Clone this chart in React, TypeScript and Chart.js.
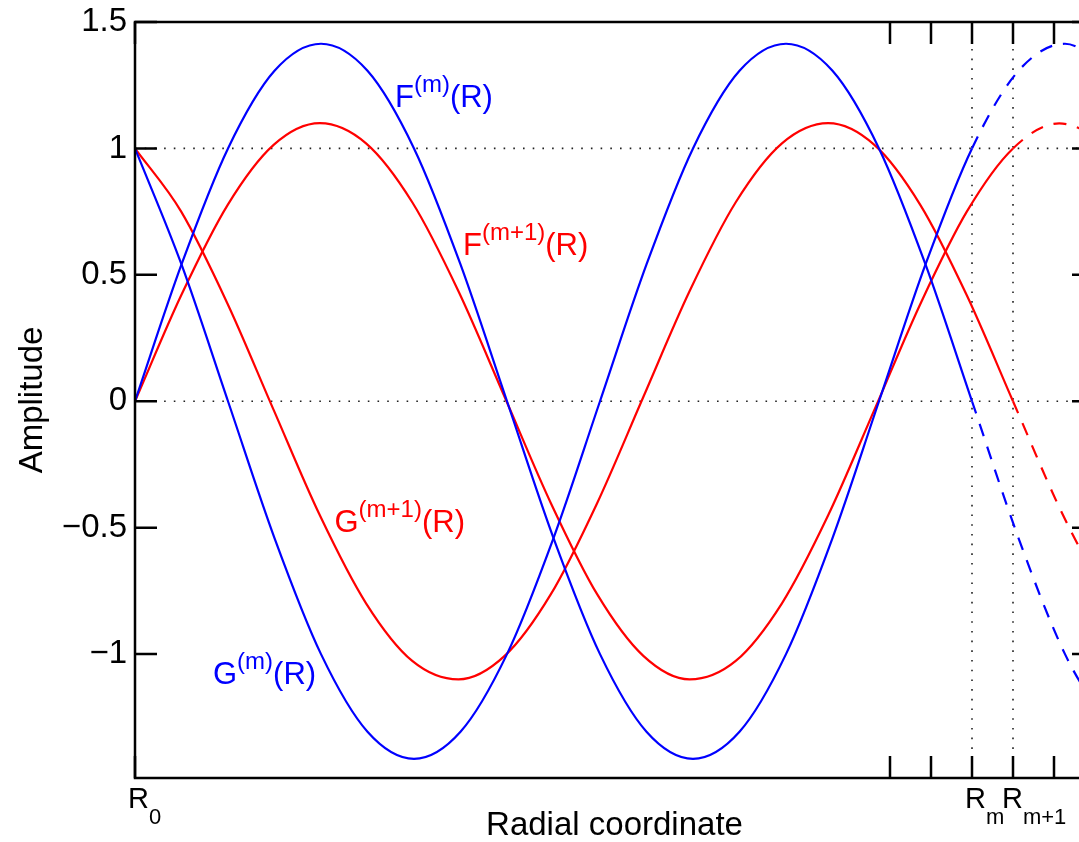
import React, { useEffect, useRef } from 'react';
import { Chart, registerables } from 'chart.js';

Chart.register(...registerables);

// ---- data (radial coordinate in arbitrary units, R0 = 0) ----
const xM = [0, 46.5, 93, 139.5, 186, 232.5, 279, 325.5, 372, 418.5, 465, 511.5, 558, 604.5, 651, 697.5, 744, 790.5, 837, 883.5, 930, 976.5];
const fM = [0, 0.541, 1.0, 1.307, 1.414, 1.307, 1.0, 0.541, 0, -0.541, -1.0, -1.307, -1.414, -1.307, -1.0, -0.541, 0, 0.541, 1.0, 1.307, 1.414, 1.307];
const gM = [1.0, 0.541, 0, -0.541, -1.0, -1.307, -1.414, -1.307, -1.0, -0.541, 0, 0.541, 1.0, 1.307, 1.414, 1.307, 1.0, 0.541, 0, -0.541, -1.0, -1.307];

const xM1 = [0, 46.21, 92.42, 138.63, 184.84, 231.05, 277.26, 323.47, 369.68, 415.89, 462.11, 508.32, 554.53, 600.74, 646.95, 693.16, 739.37, 785.58, 831.79, 878, 924.21, 970.42];
const fM1 = [0, 0.419, 0.775, 1.014, 1.1, 1.02, 0.787, 0.435, 0.017, -0.403, -0.763, -1.007, -1.1, -1.027, -0.799, -0.451, -0.034, 0.387, 0.75, 1.0, 1.099, 1.033];
const gM1 = [1.0, 0.75, 0.387, -0.034, -0.451, -0.799, -1.027, -1.1, -1.007, -0.763, -0.403, 0.017, 0.435, 0.787, 1.02, 1.1, 1.014, 0.775, 0.419, 0, -0.419, -0.775];

const R_M = 837;
const R_M1 = 878;
const X_MAX = 959;

const xTickValues = [0, 755, 796, 837, 878, 919];
const xTickMain = ['R', '', '', 'R', 'R', ''];
const xTickSub = ['0', '', '', 'm', 'm+1', ''];
const yTickValues = [1.5, 1, 0.5, 0, -0.5, -1];
const yGridValues = [1, 0];
const xGridValues = [R_M, R_M1];

const BLUE = '#0000ff';
const RED = '#ff0000';
const FONT = '"Liberation Sans", Arial, Helvetica, sans-serif';

const annotations = [
  { x: 260, y: 1.163, base: 'F', sup: '(m)', tail: '(R)', color: BLUE },
  { x: 328, y: 0.578, base: 'F', sup: '(m+1)', tail: '(R)', color: RED },
  { x: 199.5, y: -0.517, base: 'G', sup: '(m+1)', tail: '(R)', color: RED },
  { x: 78, y: -1.119, base: 'G', sup: '(m)', tail: '(R)', color: BLUE },
];

function series(xs: number[], ys: number[]) {
  return xs.map((x, i) => ({ x, y: ys[i] }));
}

function makeDataset(xs: number[], ys: number[], color: string, rEnd: number) {
  return {
    data: series(xs, ys),
    borderColor: color,
    borderWidth: 2.2,
    pointRadius: 0,
    fill: false,
    cubicInterpolationMode: 'monotone' as const,
    segment: {
      borderDash: (ctx: any) => (ctx.p0.parsed.x >= rEnd - 0.01 ? [13, 11] : undefined),
    },
  };
}

const axesPlugin = {
  id: 'matlabAxes',
  beforeDatasetsDraw(chart: any) {
    const { ctx, chartArea: a, scales } = chart;
    const x = scales.x;
    const y = scales.y;
    ctx.save();
    ctx.strokeStyle = '#222';
    ctx.lineWidth = 1.6;
    ctx.setLineDash([1.6, 8.1]);
    yGridValues.forEach((v) => {
      const py = y.getPixelForValue(v);
      ctx.beginPath();
      ctx.moveTo(a.left, py);
      ctx.lineTo(a.right, py);
      ctx.stroke();
    });
    xGridValues.forEach((v) => {
      const px = x.getPixelForValue(v);
      ctx.beginPath();
      ctx.moveTo(px, a.bottom);
      ctx.lineTo(px, a.top);
      ctx.stroke();
    });
    ctx.restore();
  },
  afterDatasetsDraw(chart: any) {
    const { ctx, chartArea: a, scales } = chart;
    const x = scales.x;
    const y = scales.y;
    const TL = 22;
    ctx.save();
    ctx.strokeStyle = '#000';
    ctx.lineWidth = 2.5;
    ctx.setLineDash([]);
    ctx.beginPath();
    ctx.rect(a.left, a.top, a.right - a.left, a.bottom - a.top);
    ctx.stroke();
    ctx.beginPath();
    xTickValues.forEach((v) => {
      const px = x.getPixelForValue(v);
      ctx.moveTo(px, a.bottom);
      ctx.lineTo(px, a.bottom - TL);
      ctx.moveTo(px, a.top);
      ctx.lineTo(px, a.top + TL);
    });
    yTickValues.forEach((v) => {
      const py = y.getPixelForValue(v);
      ctx.moveTo(a.left, py);
      ctx.lineTo(a.left + TL, py);
      ctx.moveTo(a.right, py);
      ctx.lineTo(a.right - TL, py);
    });
    ctx.stroke();
    ctx.restore();
  },
  afterDraw(chart: any) {
    const { ctx, chartArea: a, scales } = chart;
    const x = scales.x;
    const y = scales.y;
    ctx.save();
    ctx.textBaseline = 'alphabetic';
    ctx.textAlign = 'left';

    // x tick labels with subscripts
    const offsets = [-7, 0, 0, -7, -11, 0];
    ctx.fillStyle = '#000';
    xTickValues.forEach((v, i) => {
      if (!xTickMain[i]) return;
      const px = x.getPixelForValue(v) + offsets[i];
      ctx.font = `29px ${FONT}`;
      ctx.fillText(xTickMain[i], px, a.bottom + 30);
      const w = ctx.measureText(xTickMain[i]).width;
      ctx.font = `22px ${FONT}`;
      ctx.fillText(xTickSub[i], px + w, a.bottom + 46);
    });

    // axis titles
    ctx.font = `33px ${FONT}`;
    ctx.textAlign = 'center';
    ctx.fillText('Radial coordinate', (a.left + a.right) / 2, a.bottom + 57);
    ctx.save();
    ctx.translate(42, (a.top + a.bottom) / 2);
    ctx.rotate(-Math.PI / 2);
    ctx.fillText('Amplitude', 0, 0);
    ctx.restore();

    // curve labels
    ctx.textAlign = 'left';
    annotations.forEach((an) => {
      let px = x.getPixelForValue(an.x);
      const py = y.getPixelForValue(an.y);
      ctx.fillStyle = an.color;
      ctx.font = `31px ${FONT}`;
      ctx.fillText(an.base, px, py);
      px += ctx.measureText(an.base).width;
      ctx.font = `24px ${FONT}`;
      ctx.fillText(an.sup, px, py - 15);
      px += ctx.measureText(an.sup).width;
      ctx.font = `31px ${FONT}`;
      ctx.fillText(an.tail, px, py);
    });
    ctx.restore();
  },
};

export default function App() {
  const ref = useRef<HTMLCanvasElement | null>(null);

  useEffect(() => {
    if (!ref.current) return;
    const chart = new Chart(ref.current, {
      type: 'line',
      data: {
        datasets: [
          makeDataset(xM, fM, BLUE, R_M),
          makeDataset(xM, gM, BLUE, R_M),
          makeDataset(xM1, fM1, RED, R_M1),
          makeDataset(xM1, gM1, RED, R_M1),
        ],
      },
      options: {
        responsive: false,
        animation: false,
        devicePixelRatio: 1,
        layout: { padding: { top: 22, right: 16, left: 0, bottom: 0 } },
        plugins: { legend: { display: false }, tooltip: { enabled: false } },
        scales: {
          x: {
            type: 'linear',
            min: 0,
            max: X_MAX,
            grid: { display: false, drawTicks: false },
            border: { display: false },
            ticks: { display: false },
            afterBuildTicks: (s: any) => {
              s.ticks = xTickValues.map((v) => ({ value: v }));
            },
            afterFit: (s: any) => {
              s.height = 64;
              s.paddingLeft = 0;
              s.paddingRight = 0;
            },
          },
          y: {
            type: 'linear',
            min: -1.49,
            max: 1.5,
            grid: { display: false, drawTicks: false },
            border: { display: false },
            afterBuildTicks: (s: any) => {
              s.ticks = yTickValues.map((v) => ({ value: v }));
            },
            ticks: {
              color: '#000',
              padding: 8,
              font: { family: FONT, size: 33 },
              callback: (v: any) => (v < 0 ? '\u2212' + String(Math.abs(v)) : String(v)),
            },
            afterFit: (s: any) => {
              s.width = 135;
              s.paddingTop = 0;
              s.paddingBottom = 0;
            },
          },
        },
      },
      plugins: [axesPlugin],
    });
    return () => chart.destroy();
  }, []);

  return (
    <div
      style={{
        position: 'fixed',
        left: 0,
        top: 0,
        width: 1079,
        height: 842,
        overflow: 'hidden',
        background: '#fff',
      }}
    >
      <canvas ref={ref} width={1110} height={842} style={{ display: 'block' }} />
    </div>
  );
}
